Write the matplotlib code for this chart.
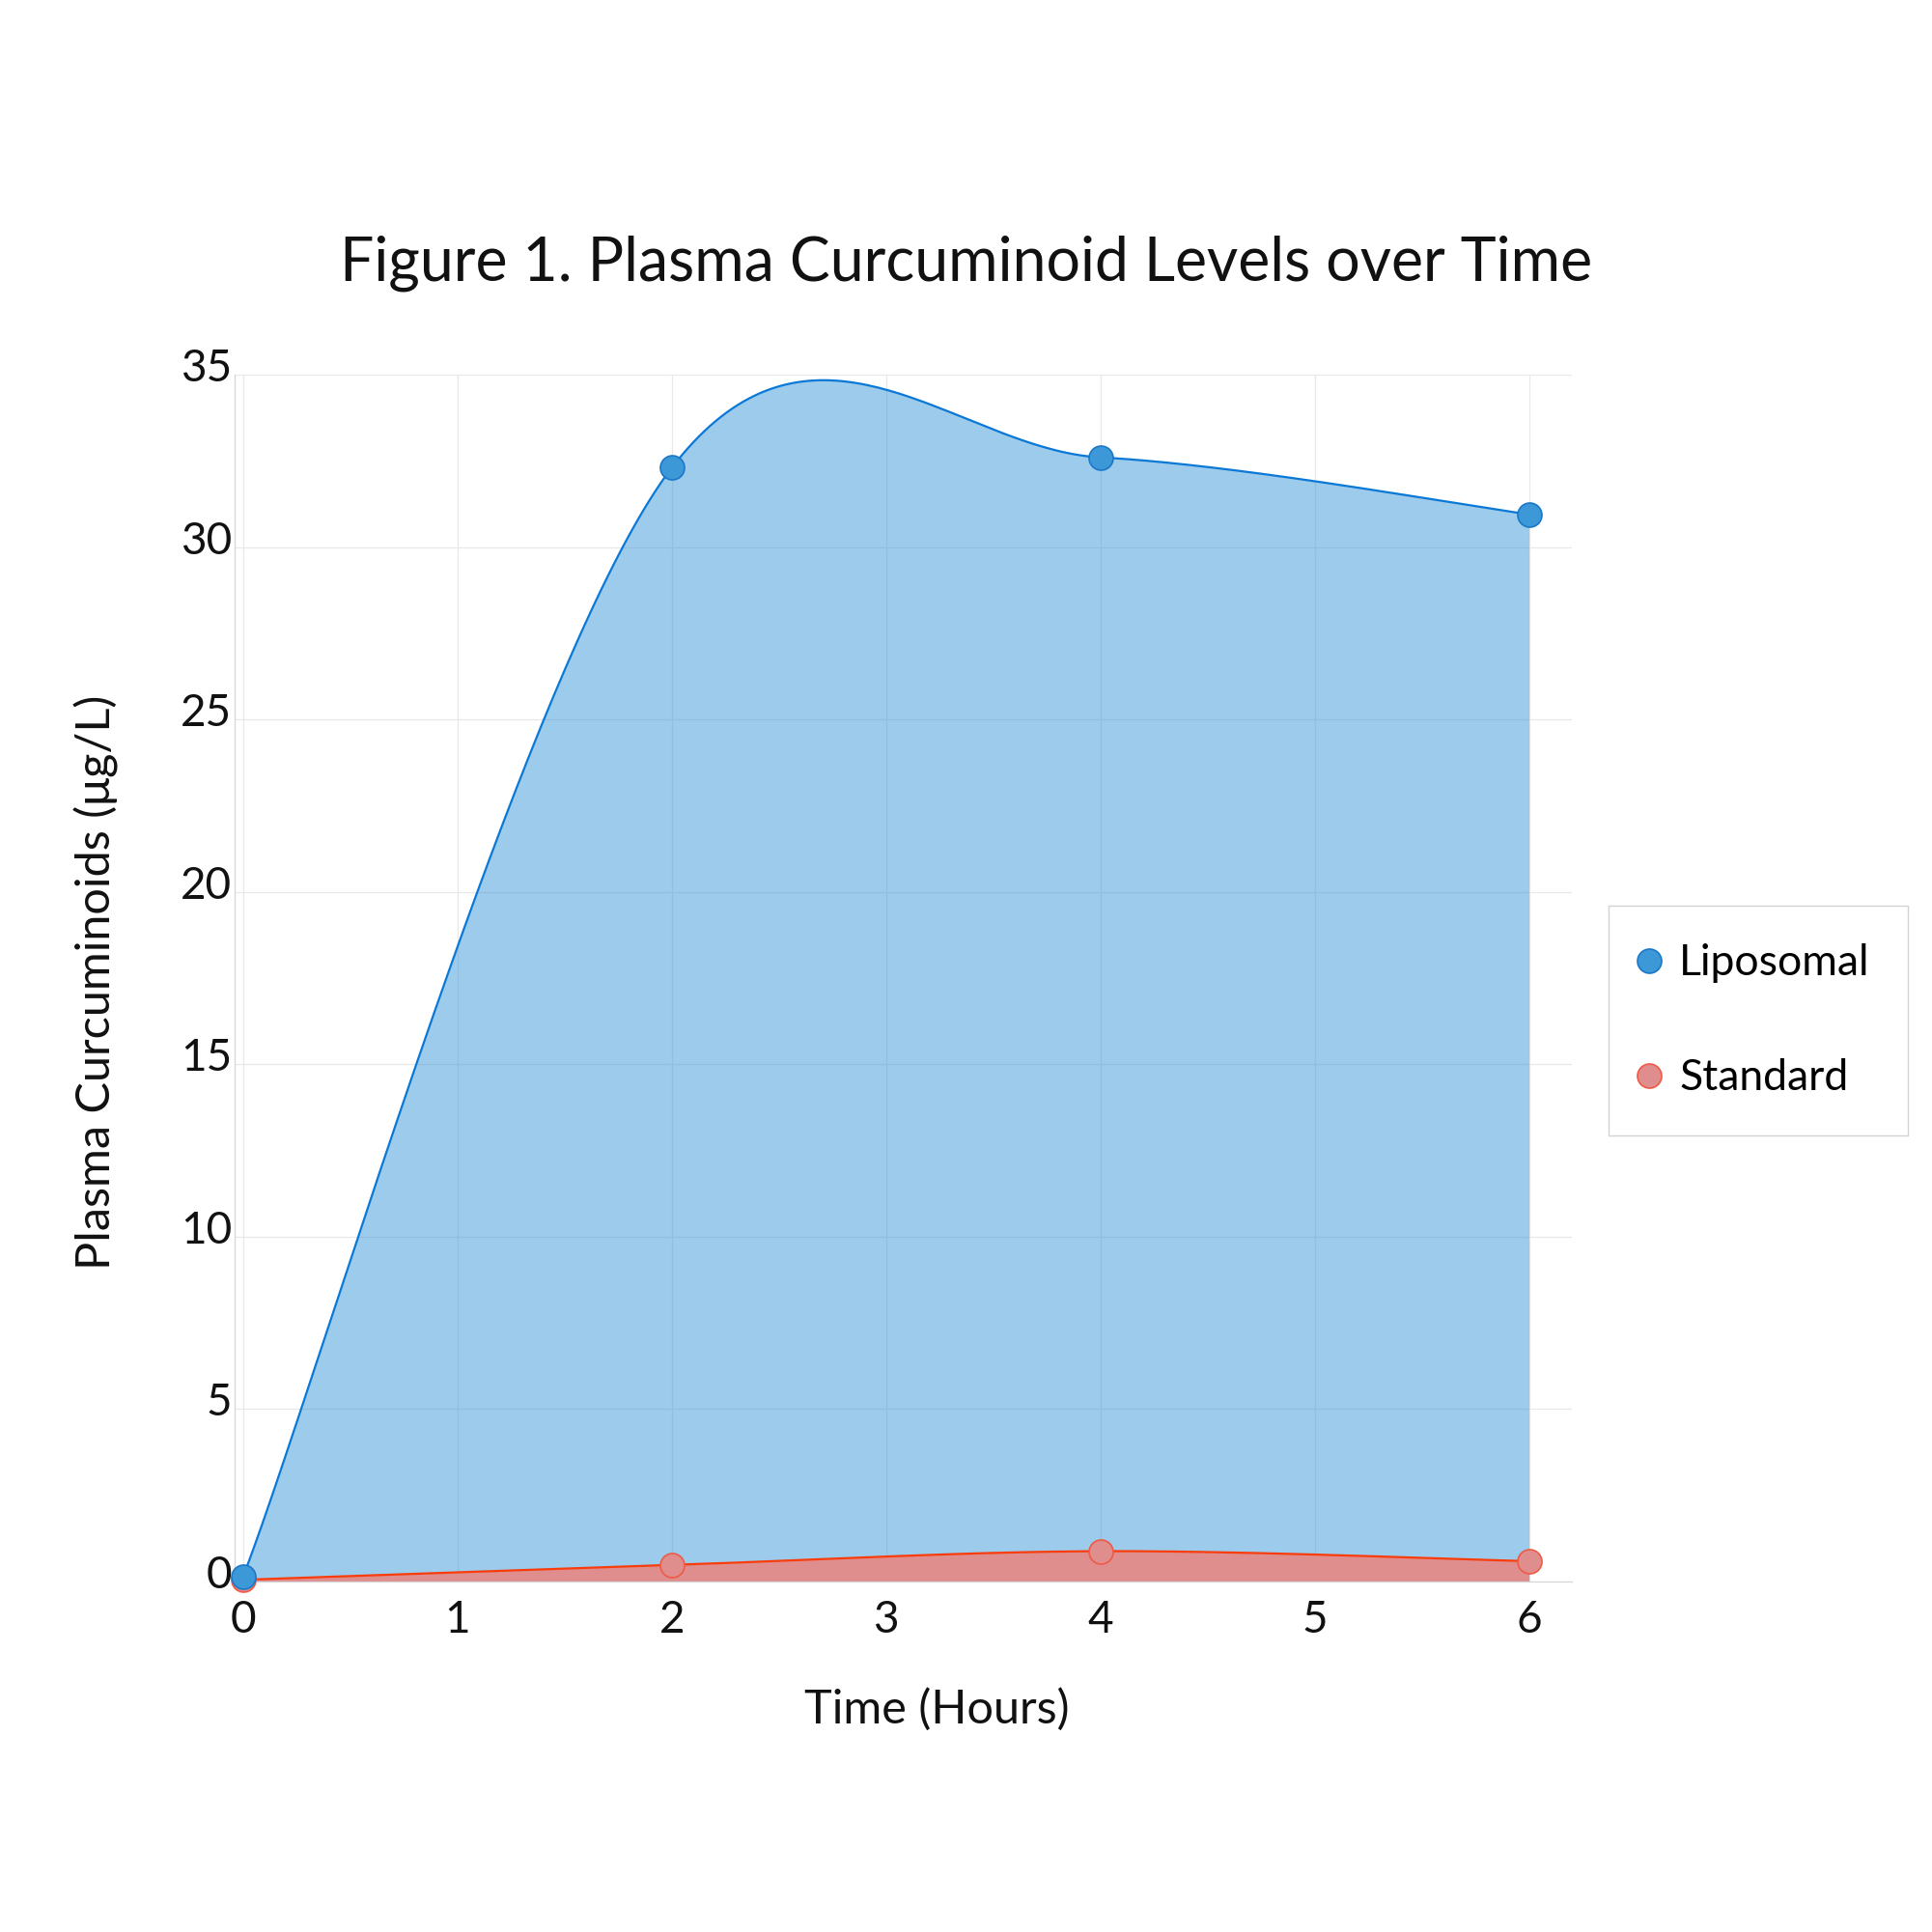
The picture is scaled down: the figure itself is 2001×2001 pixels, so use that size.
import numpy as np
import matplotlib
matplotlib.use("Agg")
import matplotlib.pyplot as plt
from matplotlib.transforms import ScaledTranslation


# Données
hours = [0, 2, 4, 6]
liposomal = [0.15, 32.3, 32.6, 30.95]
standard = [0.05, 0.48, 0.88, 0.59]

TITLE = "Figure 1. Plasma Curcuminoid Levels over Time"
X_LABEL_NAME = "Time (Hours)"
Y_LABEL_NAME = "Plasma Curcuminoids (μg/L)"

BLUE_LINE = "#0a78d6"
BLUE_MARK = "#3d98d8"
BLUE_EDGE = "#1a78c8"
RED_LINE = "#fa3c0a"
RED_FILL = "#df8d8d"
RED_EDGE = "#ee5a46"

plt.rcParams['font.family'] = ['Lato', 'DejaVu Sans']


def cardinal(x, y, steps=80):
    """ Courbe cardinale (tension 0) passant par les points, comme d3.curveCardinal """
    p = np.column_stack([x, y]).astype(float)
    p = np.vstack([p[0], p, p[-1]])
    t = np.linspace(0, 1, steps)[1:, None]
    rez = [p[1]]
    for i in range(1, len(p) - 2):
        p0, p1, p2, p3 = p[i - 1], p[i], p[i + 1], p[i + 2]
        c1 = p1 + (p2 - p0) / 6
        c2 = p2 - (p3 - p1) / 6
        seg = (1 - t)**3 * p1 + 3 * (1 - t)**2 * t * c1 + 3 * (1 - t) * t**2 * c2 + t**3 * p2
        rez.extend(seg)
    rez = np.array(rez)
    return rez[:, 0], rez[:, 1]


W = 2001
fig = plt.figure(figsize=(20.01, 20.01), dpi=100)
ax = fig.add_axes([243 / W, 1 - 1638 / W, (1628 - 243) / W, (1638 - 388) / W])

## Grille et axes
ax.set_xlim(-0.04, 6.2)
ax.set_ylim(0, 35)
ax.set_xticks(range(0, 7))
ax.set_yticks(range(0, 36, 5))
ax.grid(True, color="#e8e8e8", lw=0.9, zorder=0)
ax.set_axisbelow(True)
for s in ["top", "right"]:
    ax.spines[s].set_visible(False)
for s in ["left", "bottom"]:
    ax.spines[s].set_color("#d6d6d6")
    ax.spines[s].set_linewidth(0.9)
ax.tick_params(length=0, labelsize=33, colors="#111111")
ax.tick_params(axis="x", pad=14)
ax.tick_params(axis="y", pad=2)
for lab in ax.get_yticklabels():
    lab.set_transform(lab.get_transform() + ScaledTranslation(0, 0.10, fig.dpi_scale_trans))

## Courbes
xl, yl = cardinal(hours, liposomal)
xs, ys = cardinal(hours, standard)

ax.fill_between(xl, yl, 0, color=BLUE_MARK, alpha=0.5, lw=0, zorder=1)
ax.plot(xl, yl, color=BLUE_LINE, lw=1.6, zorder=3)
ax.fill_between(xs, ys, 0, color=RED_FILL, lw=0, zorder=2)
ax.plot(xs, ys, color=RED_LINE, lw=1.6, zorder=3)

ax.plot(hours, standard, "o", ms=18, mfc=RED_FILL, mec=RED_EDGE, mew=1.2,
        zorder=4, label="Standard", clip_on=False)
ax.plot(hours, liposomal, "o", ms=18, mfc=BLUE_MARK, mec=BLUE_EDGE, mew=1.2,
        zorder=5, label="Liposomal", clip_on=False)

## Textes
fig.text(0.5, 1 - 273 / W, TITLE, ha="center", va="center", fontsize=45, color="#111111")
fig.text(970 / W, 1 - 1770 / W, X_LABEL_NAME, ha="center", va="center", fontsize=35, color="#111111")
fig.text(100 / W, 1 - 1017 / W, Y_LABEL_NAME, ha="center", va="center", rotation=90,
         fontsize=35, color="#111111")

## Légende
h, l = ax.get_legend_handles_labels()
leg = fig.legend(h[::-1], l[::-1], loc="upper left", bbox_to_anchor=(1666 / W, 1 - 938 / W),
                 fontsize=32, frameon=True, fancybox=False, borderpad=0.88,
                 handlelength=0.14, handletextpad=0.63, labelspacing=1.76,
                 borderaxespad=0)
leg.get_frame().set_edgecolor("#c8c8c8")
leg.get_frame().set_linewidth(1.0)

fig.savefig("out.png", dpi=100, facecolor="white")
